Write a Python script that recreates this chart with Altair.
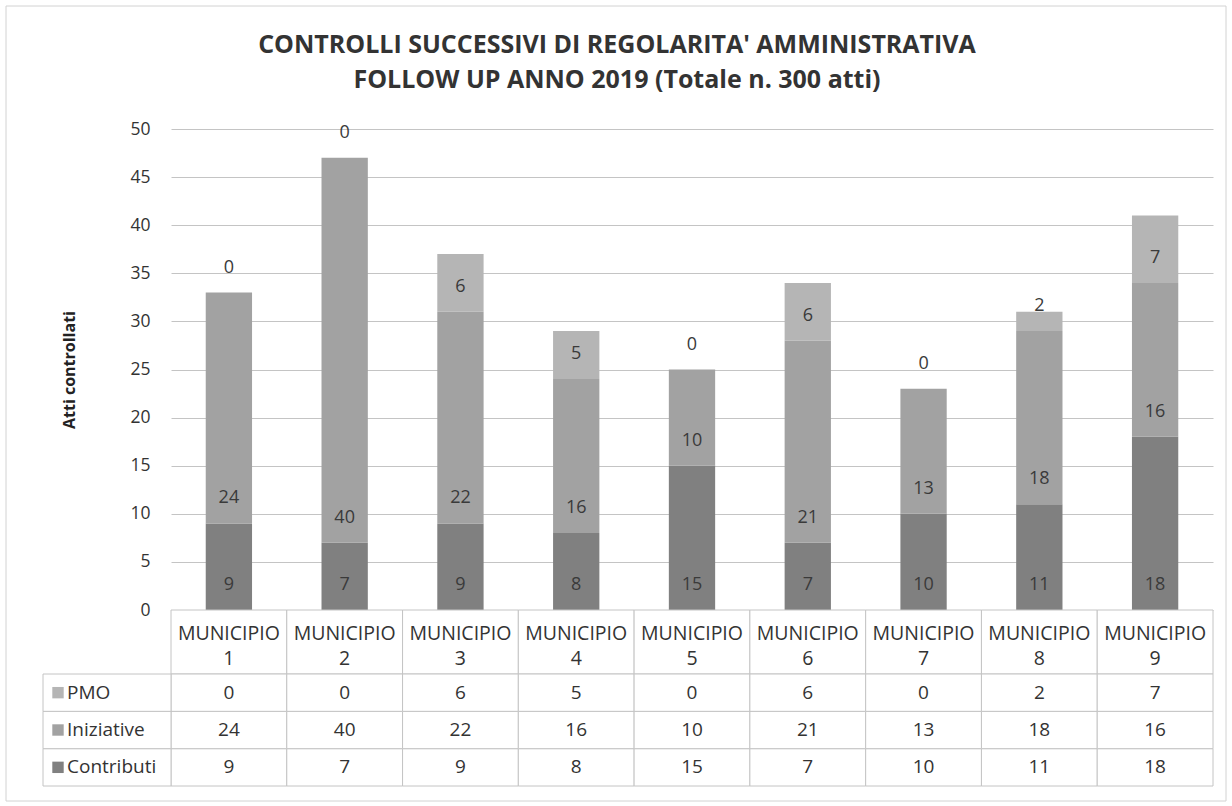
import altair as alt
import pandas as pd

MUNICIPI = ["MUNICIPIO 1", "MUNICIPIO 2", "MUNICIPIO 3", "MUNICIPIO 4", "MUNICIPIO 5",
            "MUNICIPIO 6", "MUNICIPIO 7", "MUNICIPIO 8", "MUNICIPIO 9"]
SERIE = ["Contributi", "Iniziative", "PMO"]
TABLE_ORDER = ["PMO", "Iniziative", "Contributi"]
CONTRIBUTI = [9, 7, 9, 8, 15, 7, 10, 11, 18]
INIZIATIVE = [24, 40, 22, 16, 10, 21, 13, 18, 16]
PMO = [0, 0, 6, 5, 0, 6, 0, 2, 7]
COLORI = ["#808080", "#a2a2a2", "#b5b5b5"]
Y_TICKS = [0, 5, 10, 15, 20, 25, 30, 35, 40, 45, 50]
TITLE = ["CONTROLLI SUCCESSIVI DI REGOLARITA' AMMINISTRATIVA",
         "FOLLOW UP ANNO 2019 (Totale n. 300 atti)"]
Y_TITLE = "Atti controllati"

rows = []
for i, m in enumerate(MUNICIPI):
    base = 0
    for k, (s, vals) in enumerate(zip(SERIE, [CONTRIBUTI, INIZIATIVE, PMO])):
        v = vals[i]
        rows.append({"Municipio": m, "Serie": s, "Valore": v, "ord": k, "Base": base})
        base += v
df = pd.DataFrame(rows)

W = 1042
H = 481
FONT = "Open Sans"
GRID = "#c4c4c4"
TXT = "#333333"

color_enc = alt.Color("Serie:N", scale=alt.Scale(domain=SERIE, range=COLORI), legend=None)
y_scale = alt.Scale(domain=[0, 50], nice=False)
x_bar = alt.X("Municipio:N", sort=MUNICIPI,
              scale=alt.Scale(domain=MUNICIPI, paddingInner=0.6, paddingOuter=0.3), axis=None)

one = pd.DataFrame({"k": [0]})

border = alt.Chart(one).mark_rect(fillOpacity=0, stroke="#d2d2d2", strokeWidth=1).encode(
    x=alt.value(-165), x2=alt.value(1055), y=alt.value(-123), y2=alt.value(672))

title = alt.Chart(one).mark_text(
    lineBreak="\n", lineHeight=35, baseline="top", align="center",
    fontSize=25, fontWeight="bold", color=TXT).encode(
    x=alt.value(446), y=alt.value(-96), text=alt.value("\n".join(TITLE)))

bars = alt.Chart(df).mark_bar().encode(
    x=x_bar,
    y=alt.Y("Valore:Q", stack="zero", scale=y_scale, title=Y_TITLE,
            axis=alt.Axis(values=Y_TICKS, grid=True, gridColor=GRID, gridWidth=1,
                          domain=False, ticks=False, tickSize=0, labelPadding=21,
                          labelFontSize=17.5, labelColor=TXT, titleFontSize=16,
                          titleFontWeight="bold", titleColor="#222222", titlePadding=52)),
    color=color_enc,
    order=alt.Order("ord:Q"),
)

labels = alt.Chart(df).mark_text(dy=-25, fontSize=18, color="#3a3a3a").encode(
    x=x_bar,
    y=alt.Y("Base:Q", scale=y_scale),
    text="Valore:Q",
)

top = alt.layer(border, title, bars, labels).properties(width=W, height=H)

x_cell = alt.X("Municipio:N", sort=MUNICIPI,
               scale=alt.Scale(domain=MUNICIPI, paddingInner=0, paddingOuter=0), axis=None)

hdr_df = pd.DataFrame({"Municipio": MUNICIPI})
hdr_cells = alt.Chart(hdr_df).mark_rect(fill="white", stroke=GRID).encode(x=x_cell)
hdr_text = alt.Chart(hdr_df).mark_text(lineBreak=" ", lineHeight=25, baseline="top",
                                       fontSize=19.5, color=TXT).encode(
    x=x_cell, y=alt.value(15), text="Municipio:N")
header = alt.layer(hdr_cells, hdr_text).properties(width=W, height=64)

y_row = alt.Y("Serie:N", sort=TABLE_ORDER,
              scale=alt.Scale(domain=TABLE_ORDER, paddingInner=0, paddingOuter=0), axis=None)
cells = alt.Chart(df).mark_rect(fill="white", stroke=GRID).encode(x=x_cell, y=y_row)
cell_text = alt.Chart(df).mark_text(fontSize=19, color=TXT).encode(
    x=x_cell, y=y_row, text="Valore:Q")

ser_df = pd.DataFrame({"Serie": SERIE})
lab_cells = alt.Chart(ser_df).mark_rect(fill="white", stroke=GRID).encode(
    x=alt.value(-128), x2=alt.value(0), y=y_row)
lab_sq = alt.Chart(ser_df).mark_square(size=130, opacity=1).encode(
    x=alt.value(-113), y=y_row, color=color_enc)
lab_text = alt.Chart(ser_df).mark_text(align="left", fontSize=19, color=TXT).encode(
    x=alt.value(-104), y=y_row, text="Serie:N")
body = alt.layer(cells, cell_text, lab_cells, lab_sq, lab_text).properties(width=W, height=112)

chart = alt.vconcat(top, header, body, spacing=0, bounds="flush").resolve_scale(
    x="independent", y="independent"
).properties(padding=5, background="white").configure(font=FONT).configure_view(stroke=None)

chart.save("out.html", embed_options={"renderer": "svg", "actions": False})
